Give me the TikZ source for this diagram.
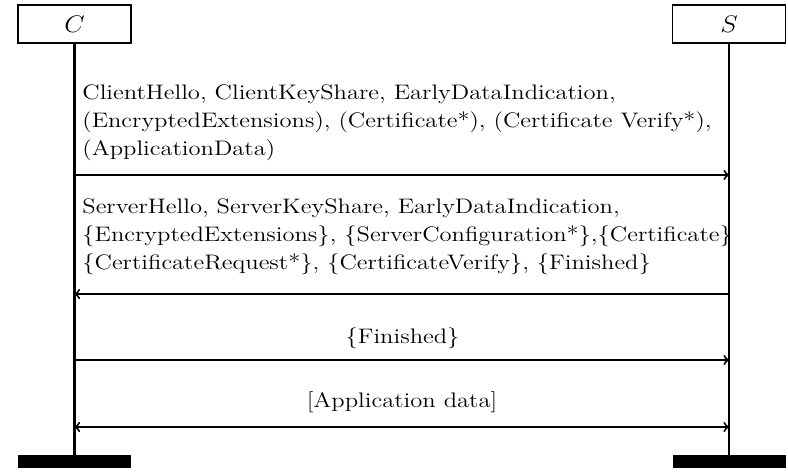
\documentclass[tikz,border=0pt]{standalone}
\usetikzlibrary{positioning}
\tikzset{
  party/.style={draw, line width=1.1pt, minimum width=67.8pt, minimum height=22.8pt, inner sep=0pt,
    font=\fontsize{15}{18}\selectfont},
  lifeend/.style={fill=black, minimum width=67.8pt, minimum height=7.8pt, inner sep=0pt},
  lifeline/.style={line width=1.3pt},
  msg/.style={line width=1.2pt},
  msgtext/.style={align=left, inner sep=0pt, xscale=1.17, transform shape,
    font=\fontsize{12.6}{16.8}\selectfont}
}

\begin{document}
\begin{tikzpicture}[x=0.6pt, y=-0.6pt]

	\useasboundingbox (0,0) rectangle (788,472);

	% the two parties
	\node[party] (C) at (74.5,24) {\scalebox{1.1}[1]{$C$}};
	\node[party] (S) at (729,24) {\scalebox{1.1}[1]{$S$}};

	% ends of the lifelines
	\node[lifeend] (Cend) at (74.5,461.5) {};
	\node[lifeend] (Send) at (729,461.5) {};

	\draw[lifeline] (C) -- (Cend);
	\draw[lifeline] (S) -- (Send);

	% points on the lifelines
	\coordinate (c1) at (C |- 0,175);
	\coordinate (s1) at (S |- 0,175);
	\coordinate (c2) at (C |- 0,294);
	\coordinate (s2) at (S |- 0,294);
	\coordinate (c3) at (C |- 0,360);
	\coordinate (s3) at (S |- 0,360);
	\coordinate (c4) at (C |- 0,427);
	\coordinate (s4) at (S |- 0,427);

	% first flight
	\draw[msg, ->] (c1) -- (s1);
	\node[msgtext, anchor=base west] (m1) at (82,155.5) {ClientHello, ClientKeyShare, EarlyDataIndication,\\
		(EncryptedExtensions), (Certificate*), (Certificate Verify*),\\
		(ApplicationData)};

	% answer of the server
	\draw[msg, ->] (s2) -- (c2);
	\node[msgtext, anchor=base west] (m2) at (82,270) {ServerHello, ServerKeyShare, EarlyDataIndication,\\
		\{EncryptedExtensions\}, \{ServerConfiguration*\},\{Certificate\}\\
		\{CertificateRequest*\}, \{CertificateVerify\}, \{Finished\}};

	% finished
	\draw[msg, ->] (c3) -- (s3);
	\node[msgtext, anchor=base] (m3) at (402.5,344) {\{Finished\}};

	% data both ways
	\draw[msg, <->] (c4) -- (s4);
	\node[msgtext, anchor=base] (m4) at (402,408) {[Application data]};

\end{tikzpicture}
\end{document}
